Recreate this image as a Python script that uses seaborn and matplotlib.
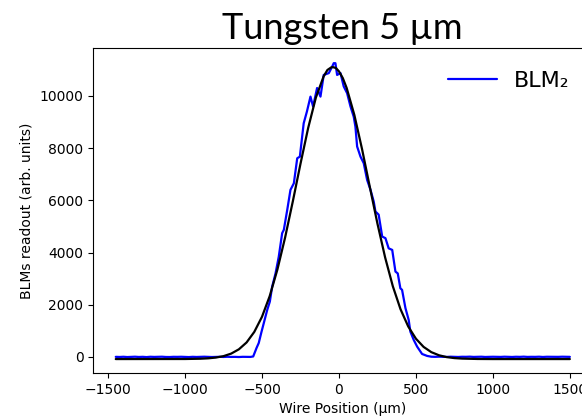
import matplotlib
matplotlib.use("Agg")
import matplotlib.pyplot as plt
import seaborn as sns
import pandas as pd

# ---- measured BLM2 signal (wire position in um, readout in arb. units) ----
blm_pos = [
    -1450, -1425, -1400, -1375, -1350, -1325, -1300, -1275, -1250, -1225,
    -1200, -1175, -1150, -1125, -1100, -1075, -1050, -1025, -1000, -975,
    -950, -925, -900, -875, -850, -825, -800, -775, -750, -725,
    -700, -675, -650, -625, -600, -575,
    -557, -545, -535, -521, -505, -488, -466, -449, -434, -412,
    -391, -369, -358, -336, -315, -293, -271, -254, -229, -208,
    -185, -168, -142, -120, -99, -66, -44, -34, -23, -12,
    10, 31, 53, 75, 96, 107, 118, 140, 161, 183,
    205, 226, 237, 258, 281, 302, 323, 346, 367, 382,
    399, 410, 432, 453, 464, 486, 508, 540, 573,
    600, 625, 650, 675, 700, 725, 750, 775, 800, 825,
    850, 875, 900, 925, 950, 975, 1000, 1025, 1050, 1075,
    1100, 1125, 1150, 1175, 1200, 1225, 1250, 1275, 1300, 1325,
    1350, 1375, 1400, 1425, 1450, 1475, 1500,
]
blm_val = [
    5, 0, 8, -3, 4, 10, 0, 6, -4, 8,
    2, 4, 10, 0, -2, 6, 4, 8, 2, -4,
    6, 0, 4, 10, 2, -2, 4, 6, 0, 8,
    2, 4, -2, 6, 4, 2,
    20, 200, 350, 536, 920, 1300, 1800, 2120, 2690, 3200,
    3840, 4740, 4870, 5630, 6400, 6650, 7610, 7670, 8950, 9400,
    9970, 9590, 10300, 9970, 10800, 10870, 11120, 11250, 11250, 10800,
    10870, 10360, 10100, 9590, 9200, 8820, 8060, 7670, 7420, 6780,
    6400, 5950, 5570, 5450, 4610, 4550, 4160, 4100, 3270, 3200,
    2630, 2570, 1870, 1420, 970, 650, 395, 115, 40,
    10, 5, 12, 6, 2, 10, 4, 0, 8, 6,
    12, 2, 4, 10, 0, 6, 8, 4, 2, 10,
    6, 0, 8, 4, 12, 2, 6, 4, 10, 0,
    8, 6, 2, 4, 10, 6, 4,
]

# ---- gaussian fit curve ----
fit_pos = [
    -1450, -1000, -900, -850, -800, -750, -700, -650, -600, -550,
    -500, -450, -400, -350, -300, -250, -200, -150, -100, -75, -50,
    -40, -20, 0, 25, 50, 100, 150, 200, 250, 300, 350, 400,
    450, 500, 550, 600, 650, 700, 750, 800, 900, 1000, 1500,
]
fit_val = [
    -80, -78, -67, -52, -23, 32, 129, 294, 557, 960,
    1539, 2328, 3345, 4569, 5950, 7394, 8769, 9930, 10739, 10990, 11090,
    11100, 11065, 10938, 10680, 10303, 9268, 7961, 6527, 5108, 3811, 2708, 1828,
    1168, 699, 385, 185, 65, -5, -43, -62, -77, -80, -80,
]

df_blm = pd.DataFrame({"pos": blm_pos, "val": blm_val})
df_fit = pd.DataFrame({"pos": fit_pos, "val": fit_val})

sns.set_style("ticks", rc={
    "axes.edgecolor": "black", "text.color": "black", "axes.labelcolor": "black",
    "xtick.color": "black", "ytick.color": "black",
})
plt.rcParams["font.family"] = ["DejaVu Sans"]

fig = plt.figure(figsize=(5.82, 4.18), dpi=100)
ax = fig.add_axes([0.16, 0.1077, 0.858, 0.778])

sns.lineplot(data=df_blm, x="pos", y="val", color="blue", lw=1.6,
             estimator=None, sort=False, label="BLM\u2082", ax=ax)
sns.lineplot(data=df_fit, x="pos", y="val", color="black", lw=1.6,
             estimator=None, sort=False, ax=ax)

ax.set_xlim(-1597, 1647)
ax.set_ylim(-613, 11840)
ax.set_xticks([-1500, -1000, -500, 0, 500, 1000, 1500])
ax.set_yticks([0, 2000, 4000, 6000, 8000, 10000])
ax.tick_params(labelsize=10, direction="out", length=3.5, width=0.8)
for sp in ax.spines.values():
    sp.set_linewidth(0.8)
ax.set_xlabel("Wire Position (\u00b5m)", fontsize=10)
ax.set_ylabel("BLMs readout (arb. units)", fontsize=10)
ax.set_title("Tungsten 5 \u00b5m", fontsize=26, family=["Lato", "DejaVu Sans"], pad=6)

ax.legend(loc="upper right", frameon=False, fontsize=16, handlelength=2.2,
          bbox_to_anchor=(0.995, 0.99))

fig.savefig("out.png", dpi=100)
plt.close(fig)
